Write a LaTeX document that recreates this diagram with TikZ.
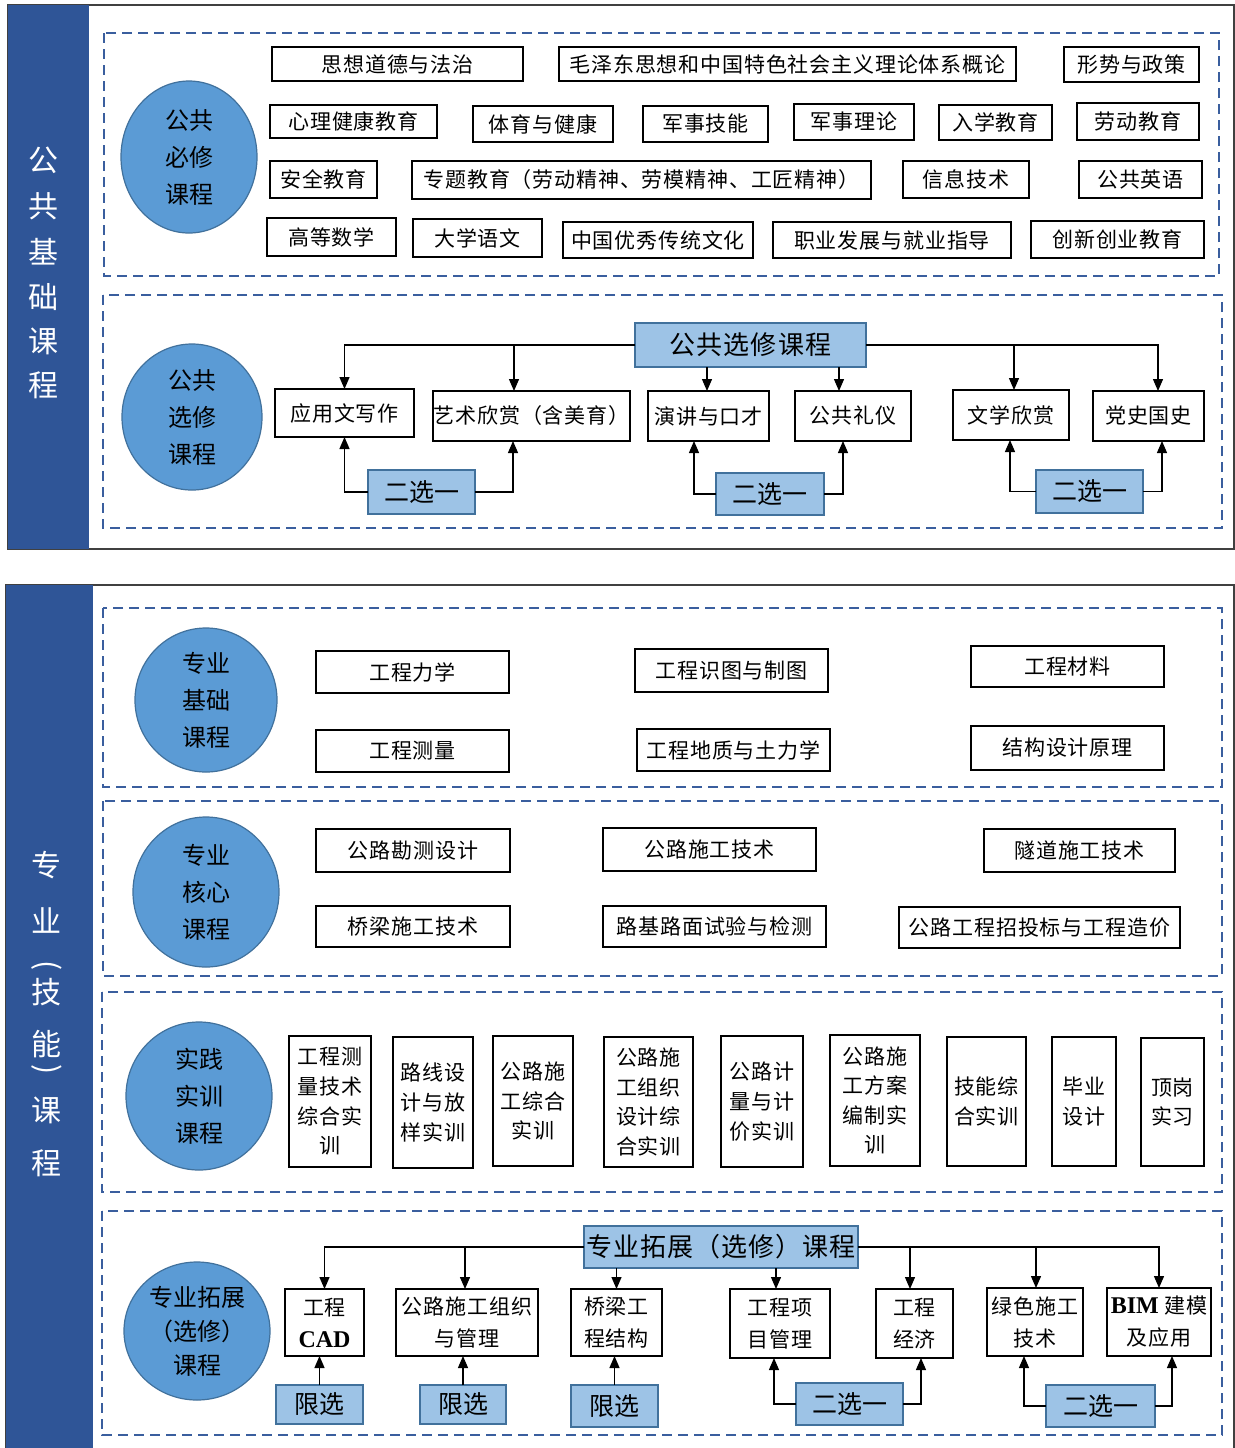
\documentclass[tikz,border=0pt]{standalone}
\usepackage{fontspec}
\setmainfont{Noto Sans CJK SC}
\newfontfamily\tnr{Liberation Serif}
\newfontfamily\spaced{Noto Sans CJK SC}[LetterSpace=4]
\usetikzlibrary{shapes.geometric,arrows.meta,calc}
\definecolor{barblue}{HTML}{2F5597}
\definecolor{dashblue}{HTML}{3A5E9E}
\definecolor{ellfill}{HTML}{5B9BD5}
\definecolor{ellline}{HTML}{41719C}
\definecolor{lbfill}{HTML}{9DC3E6}
\definecolor{lbline}{HTML}{41719C}
\newcommand\rb[7]{\node[#1,minimum width={((#5)-(#3))*0.5pt},minimum height={((#6)-(#4))*0.5pt}] (#2) at ({((#3)+(#5))/2},{((#4)+(#6))/2}) {#7};}
\newcommand\el[6]{\node[ell,minimum width={2*(#4)*0.5pt},minimum height={2*(#5)*0.5pt}] (#1) at (#2,#3) {}; \node[etext] (#1t) at (#1.center) {#6};}
\begin{document}
\begin{tikzpicture}[x=0.5pt,y=-0.5pt,
  box/.style={draw=black,line width=1.4pt,fill=white,inner sep=0pt,outer sep=0pt,align=center,font=\spaced\fontsize{10.5}{16}\selectfont},
  vbox/.style={box,font=\spaced\fontsize{10.5}{14.8}\selectfont},
  lbox/.style={draw=lbline,line width=0.6pt,fill=lbfill,inner sep=0pt,outer sep=0pt,align=center,font=\fontsize{12.5}{15}\selectfont},
  gbox/.style={lbox,font=\spaced\fontsize{13}{15}\selectfont},
  ell/.style={ellipse,draw=ellline,line width=0.6pt,fill=ellfill,inner sep=0pt},
  etext/.style={align=center,font=\fontsize{12}{18.5}\selectfont,inner sep=0pt},
  etextD/.style={align=center,font=\fontsize{12}{17}\selectfont,inner sep=0pt},
  dbox/.style={draw=dashblue,line width=1.3pt,dash pattern=on 5pt off 3pt},
  frame/.style={draw=black!75,line width=0.8pt},
  side/.style={text=white,font=\fontsize{15}{15}\selectfont,inner sep=0pt},
  arr/.style={line width=0.65pt,-{Triangle[length=6pt,width=5pt]}},
  ln/.style={line width=0.65pt}]
\useasboundingbox (0,0) rectangle (1235,1448);
\fill[white] (0,0) rectangle (1235,1448);

% ---------- panel 1 ----------
\draw[frame] (8,5) rectangle (1234,549);
\fill[barblue] (8,5) rectangle (89,549);
\node[side] (s1a) at (43,160) {公};
\node[side] (s1b) at (43,206) {共};
\node[side] (s1c) at (43,252) {基};
\node[side] (s1d) at (43,297) {础};
\node[side] (s1e) at (43,341) {课};
\node[side] (s1f) at (43,385) {程};
\draw[dbox] (104,33) rectangle (1219,276);
\draw[dbox] (103,295) rectangle (1222,528);

\el{E1}{189}{157}{68}{76}{公共\\必修\\课程}
\rb{box}{a1}{272}{47}{523}{81}{思想道德与法治}
\rb{box}{a2}{559}{47}{1016}{81}{毛泽东思想和中国特色社会主义理论体系概论}
\rb{box}{a3}{1064}{47}{1199}{82}{形势与政策}
\rb{box}{b1}{270}{105}{437}{138}{心理健康教育}
\rb{box}{b2}{473}{106}{613}{142}{体育与健康}
\rb{box}{b3}{643}{106}{768}{142}{军事技能}
\rb{box}{b4}{794}{104}{914}{140}{军事理论}
\rb{box}{b5}{939}{105}{1052}{140}{入学教育}
\rb{box}{b6}{1077}{103}{1199}{140}{劳动教育}
\rb{box}{c1}{270}{161}{377}{198}{安全教育}
\rb{box}{c2}{412}{161}{871}{199}{专题教育（劳动精神、劳模精神、工匠精神）}
\rb{box}{c3}{903}{161}{1029}{198}{信息技术}
\rb{box}{c4}{1079}{161}{1202}{198}{公共英语}
\rb{box}{d1}{267}{218}{396}{256}{高等数学}
\rb{box}{d2}{413}{219}{542}{257}{大学语文}
\rb{box}{d3}{563}{222}{753}{258}{中国优秀传统文化}
\rb{box}{d4}{773}{222}{1011}{258}{职业发展与就业指导}
\rb{box}{d5}{1031}{221}{1204}{258}{创新创业教育}

\el{E2}{192}{417}{70}{73}{公共\\选修\\课程}
\rb{gbox}{gx}{635}{323}{866}{367}{公共选修课程}
\rb{box}{e1}{275}{389}{414}{437}{应用文写作}
\rb{box}{e2}{433}{391}{630}{441}{艺术欣赏（含美育）}
\rb{box}{e3}{648}{391}{769}{441}{演讲与口才}
\rb{box}{e4}{795}{391}{911}{441}{公共礼仪}
\rb{box}{e5}{953}{390}{1069}{440}{文学欣赏}
\rb{box}{e6}{1093}{391}{1204}{441}{党史国史}
\rb{lbox}{x1}{368}{470}{475}{514}{二选一}
\rb{lbox}{x2}{716}{473}{824}{515}{二选一}
\rb{lbox}{x3}{1036}{470}{1143}{513}{二选一}

\draw[arr] (gx.west) -| (e1.north);
\coordinate (k1) at (514,345);
\draw[arr] (k1) -- (k1 |- e2.north);
\coordinate (k2) at (707,367);
\draw[arr] (k2) -- (k2 |- e3.north);
\coordinate (k3) at (839,367);
\draw[arr] (k3) -- (k3 |- e4.north);
\coordinate (k4) at (1158,391);
\draw[arr] (gx.east) -| (k4);
\coordinate (k5) at (1014,345);
\draw[arr] (k5) -- (k5 |- e5.north);
\draw[arr] (x1.west) -| (e1.south);
\coordinate (m1) at (513,441);
\draw[arr] (x1.east) -| (m1);
\coordinate (m2) at (694,441);
\draw[arr] (x2.west) -| (m2);
\coordinate (m3) at (843,441);
\draw[arr] (x2.east) -| (m3);
\coordinate (m5) at (1010,440);
\draw[arr] (x3.west) -| (m5);
\coordinate (m4) at (1162,441);
\draw[arr] (x3.east) -| (m4);

% ---------- panel 2 ----------
\draw[frame] (6,585) rectangle (1234,1460);
\fill[barblue] (6,585) rectangle (93,1460);
\node[side] (s2a) at (47,865) {专};
\node[side] (s2b) at (47,920) {业};
\node[side,rotate=-90] (s2c) at (47,966) {(};
\node[side] (s2d) at (47,992) {技};
\node[side] (s2e) at (47,1044) {能};
\node[side,rotate=-90] (s2f) at (47,1070) {)};
\node[side] (s2g) at (47,1110) {课};
\node[side] (s2h) at (47,1163) {程};

\draw[dbox] (103,608) rectangle (1222,787);
\draw[dbox] (103,801) rectangle (1222,976);
\draw[dbox] (102,992) rectangle (1222,1192);
\draw[dbox] (102,1211) rectangle (1222,1435);

\el{E3}{206}{700}{71}{72}{专业\\基础\\课程}
\rb{box}{f1}{316}{651}{509}{693}{工程力学}
\rb{box}{f2}{635}{649}{828}{692}{工程识图与制图}
\rb{box}{f3}{971}{646}{1164}{687}{工程材料}
\rb{box}{f4}{316}{730}{509}{772}{工程测量}
\rb{box}{f5}{637}{729}{830}{771}{工程地质与土力学}
\rb{box}{f6}{971}{726}{1164}{770}{结构设计原理}

\el{E4}{206}{892}{73}{75}{专业\\核心\\课程}
\rb{box}{g1}{316}{829}{510}{872}{公路勘测设计}
\rb{box}{g2}{603}{828}{816}{871}{公路施工技术}
\rb{box}{g3}{984}{829}{1175}{872}{隧道施工技术}
\rb{box}{g4}{316}{906}{510}{947}{桥梁施工技术}
\rb{box}{g5}{603}{906}{826}{947}{路基路面试验与检测}
\rb{box}{g6}{899}{907}{1180}{948}{公路工程招投标与工程造价}

\el{E5}{199}{1096}{73}{74}{实践\\实训\\课程}
\rb{vbox}{h1}{289}{1036}{371}{1167}{工程测\\量技术\\综合实\\训}
\rb{vbox}{h2}{393}{1037}{473}{1168}{路线设\\计与放\\样实训}
\rb{vbox}{h3}{493}{1036}{573}{1166}{公路施\\工综合\\实训}
\rb{vbox}{h4}{604}{1037}{693}{1167}{公路施\\工组织\\设计综\\合实训}
\rb{vbox}{h5}{721}{1036}{803}{1167}{公路计\\量与计\\价实训}
\rb{vbox}{h6}{830}{1035}{920}{1166}{公路施\\工方案\\编制实\\训}
\rb{vbox}{h7}{947}{1037}{1026}{1166}{技能综\\合实训}
\rb{vbox}{h8}{1052}{1037}{1116}{1166}{毕业\\设计}
\rb{vbox}{h9}{1141}{1038}{1204}{1166}{顶岗\\实习}

\node[ell,minimum width=73pt,minimum height=69pt] (E6) at (197,1331) {};
\node[etextD] (E6t) at (E6.center) {专业拓展\\（选修）\\课程};
\rb{gbox}{zt}{584}{1226}{858}{1268}{专业拓展（选修）课程}
\rb{box}{p1}{285}{1289}{364}{1356}{工程\\{\tnr\bfseries\fontsize{12}{16}\selectfont CAD}}
\rb{box}{p2}{396}{1289}{538}{1356}{公路施工组织\\与管理}
\rb{box}{p3}{571}{1289}{662}{1356}{桥梁工\\程结构}
\rb{box}{p4}{730}{1289}{830}{1358}{工程项\\目管理}
\rb{box}{p5}{876}{1289}{953}{1358}{工程\\经济}
\rb{box}{p6}{987}{1288}{1083}{1356}{绿色施工\\技术}
\rb{box}{p7}{1107}{1288}{1211}{1356}{{\tnr\bfseries\fontsize{12}{16}\selectfont BIM} 建模\\及应用}
\rb{lbox}{q1}{276}{1385}{363}{1424}{限选}
\rb{lbox}{q2}{420}{1385}{506}{1424}{限选}
\rb{lbox}{q3}{571}{1385}{658}{1427}{限选}
\rb{lbox}{q4}{796}{1383}{903}{1425}{二选一}
\rb{lbox}{q5}{1046}{1385}{1155}{1427}{二选一}

\draw[arr] (zt.west) -| (p1.north);
\coordinate (n1) at (465,1247);
\draw[arr] (n1) -- (n1 |- p2.north);
\draw[arr] (p3.north |- zt.south) -- (p3.north);
\coordinate (n2) at (776,1268);
\draw[arr] (n2) -- (n2 |- p4.north);
\draw[arr] (zt.east) -| (p7.north);
\coordinate (n3) at (910,1247);
\draw[arr] (n3) -- (n3 |- p5.north);
\coordinate (n4) at (1036,1247);
\draw[arr] (n4) -- (n4 |- p6.north);
\draw[arr] (q1.north) -- (q1.north |- p1.south);
\draw[arr] (q2.north) -- (q2.north |- p2.south);
\draw[arr] (q3.north) -- (q3.north |- p3.south);
\coordinate (r1) at (774,1358);
\draw[arr] (q4.west) -| (r1);
\coordinate (r2) at (921,1358);
\draw[arr] (q4.east) -| (r2);
\coordinate (r3) at (1024,1356);
\draw[arr] (q5.west) -| (r3);
\coordinate (r4) at (1172,1356);
\draw[arr] (q5.east) -| (r4);
\end{tikzpicture}
\end{document}
